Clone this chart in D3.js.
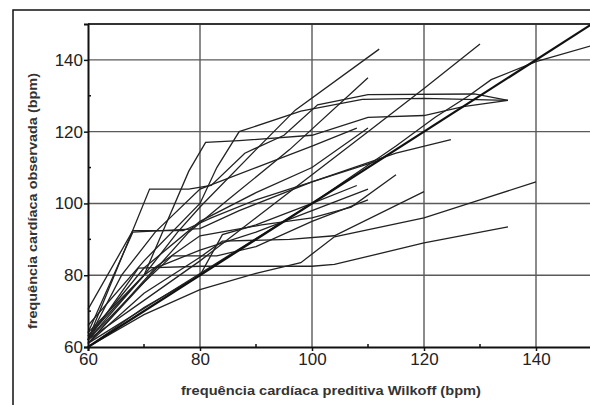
<!DOCTYPE html>
<html>
<head>
<meta charset="utf-8">
<script src="https://cdn.jsdelivr.net/npm/d3@7"></script>
<style>
  body { margin: 0; background: #fff; }
  svg { display: block; }
</style>
</head>
<body>
<svg width="590" height="405"></svg>
<script>
// Axis ticks
var xTicks = [60, 80, 100, 120, 140];
var yTicks = [60, 80, 100, 120, 140];
var minorTicks = [70, 90, 110, 130];

// Identity line (predicted = observed)
var identity = [[60, 60], [150, 150]];

// One series per patient: [predicted, observed]
var patients = [
  [[60, 61], [80, 80.5], [100, 100], [115, 116], [122, 124], [128, 130], [132, 134.5], [140, 139.5], [150, 144]],
  [[60, 62], [70, 73], [80, 84], [90, 96], [100, 108], [110, 120], [120, 132], [130, 144.4]],
  [[60, 63], [70, 80], [76, 92], [80, 99], [90, 115], [97, 126], [112, 143]],
  [[60, 62], [70, 78], [78, 92], [85, 101], [96, 115], [110, 135]],
  [[60, 62], [71, 104], [78, 104], [82, 105], [88, 114], [95, 119], [101, 127.5], [110, 130.3], [129, 130.5], [135, 128.7]],
  [[60, 64], [70, 80], [78, 109], [81, 117], [87, 117.5], [100, 119], [110, 124], [120, 124.5], [127, 127], [135, 128.7]],
  [[60, 66], [70, 84], [80, 100], [83, 110], [87, 120], [98, 125.7], [109, 129], [120, 129.3], [135, 128.7]],
  [[60, 64], [68, 92], [80, 93], [87, 98], [100, 106], [115, 114], [124.8, 117.8]],
  [[60, 62], [70, 80], [80, 91], [91, 94], [100, 96], [107, 99], [115, 108]],
  [[60, 70.5], [68, 92.4], [77, 92.4], [82, 96], [90, 101], [100, 106], [112, 112]],
  [[60, 61], [70, 75], [80, 85], [84, 89.5], [96, 90], [104, 91], [120, 103.3]],
  [[60, 60], [70, 69], [80, 76], [90, 80.5], [98, 83.5], [104, 90.7], [120, 96], [130, 101], [140, 106]],
  [[60, 62], [69, 82], [80, 82.5], [100, 82.5], [104, 83], [120, 89], [135, 93.5]],
  [[60, 61], [70, 78], [75, 85.4], [83, 85.4], [90, 88], [100, 95], [110, 101]],
  [[60, 60], [70, 71], [80, 80], [84, 91.3], [90, 94], [100, 100], [108, 105]],
  [[60, 61], [72, 82], [80, 87], [90, 92], [100, 98], [110, 104]],
  [[60, 63], [70, 82], [80, 95], [90, 103], [100, 110], [110, 121]],
  [[60, 62], [66, 80], [72, 92], [80, 104], [90, 110], [100, 116], [108, 121]]
];

var svg = d3.select("svg");

// Outer frame
svg.append("rect")
  .attr("x", 13).attr("y", 10)
  .attr("width", 620).attr("height", 420)
  .attr("fill", "none")
  .attr("stroke", "#111")
  .attr("stroke-width", 1.5);

var x = d3.scaleLinear().domain([60, 150]).range([88, 592]);
var y = d3.scaleLinear().domain([60, 150]).range([347, 24]);

// Grid
var grid = svg.append("g").attr("stroke", "#5a5a5a").attr("stroke-width", 1.4);
grid.selectAll(".gx")
  .data(xTicks.slice(1))
  .enter().append("line")
  .attr("x1", d => x(d)).attr("x2", d => x(d))
  .attr("y1", y(60)).attr("y2", y(150));
grid.selectAll(".gy")
  .data(yTicks.slice(1))
  .enter().append("line")
  .attr("x1", x(60)).attr("x2", x(150))
  .attr("y1", d => y(d)).attr("y2", d => y(d));

// Top border of the plot
svg.append("line")
  .attr("x1", x(60)).attr("x2", x(150))
  .attr("y1", y(150)).attr("y2", y(150))
  .attr("stroke", "#333").attr("stroke-width", 1.8);

// Patient lines
var line = d3.line()
  .x(d => x(d[0]))
  .y(d => y(d[1]));

svg.append("g")
  .selectAll("path")
  .data(patients)
  .enter().append("path")
  .attr("d", line)
  .attr("fill", "none")
  .attr("stroke", "#222")
  .attr("stroke-width", 1.3);

svg.append("path")
  .attr("d", line(identity))
  .attr("fill", "none")
  .attr("stroke", "#111")
  .attr("stroke-width", 2.2);

// Axes
var xAxis = svg.append("g")
  .attr("transform", "translate(0," + y(60) + ")")
  .call(d3.axisBottom(x).tickValues(xTicks).tickSize(4).tickFormat(d3.format("d")));
var yAxis = svg.append("g")
  .attr("transform", "translate(" + x(60) + ",0)")
  .call(d3.axisLeft(y).tickValues(yTicks).tickSize(4).tickFormat(d3.format("d")));

[xAxis, yAxis].forEach(function (g) {
  g.select(".domain").attr("stroke", "#111").attr("stroke-width", 2);
  g.selectAll(".tick line").attr("stroke", "#111").attr("stroke-width", 1.5);
  g.selectAll("text")
    .attr("fill", "#222")
    .style("font-family", "Liberation Sans, Arial, sans-serif")
    .style("font-size", "17px");
});
xAxis.selectAll("text").attr("dy", "0.9em").attr("y", 3);
yAxis.selectAll("text").attr("x", -5);

// Minor ticks (inside)
svg.append("g").selectAll("line")
  .data(minorTicks)
  .enter().append("line")
  .attr("x1", d => x(d)).attr("x2", d => x(d))
  .attr("y1", y(60)).attr("y2", y(60) - 3)
  .attr("stroke", "#111").attr("stroke-width", 1.5);
svg.append("g").selectAll("line")
  .data(minorTicks)
  .enter().append("line")
  .attr("x1", x(60)).attr("x2", x(60) + 3)
  .attr("y1", d => y(d)).attr("y2", d => y(d))
  .attr("stroke", "#111").attr("stroke-width", 1.5);

// Axis titles
svg.append("text")
  .attr("x", 331).attr("y", 395)
  .attr("text-anchor", "middle")
  .attr("fill", "#333")
  .attr("textLength", 300)
  .attr("lengthAdjust", "spacingAndGlyphs")
  .style("font-family", "Liberation Sans, Arial, sans-serif")
  .style("font-weight", "bold")
  .style("font-size", "13px")
  .text("frequência cardíaca preditiva Wilkoff (bpm)");

svg.append("text")
  .attr("transform", "translate(37,201) rotate(-90)")
  .attr("text-anchor", "middle")
  .attr("fill", "#333")
  .attr("textLength", 256)
  .attr("lengthAdjust", "spacingAndGlyphs")
  .style("font-family", "Liberation Sans, Arial, sans-serif")
  .style("font-weight", "bold")
  .style("font-size", "13px")
  .text("frequência cardíaca observada (bpm)");
</script>
</body>
</html>
